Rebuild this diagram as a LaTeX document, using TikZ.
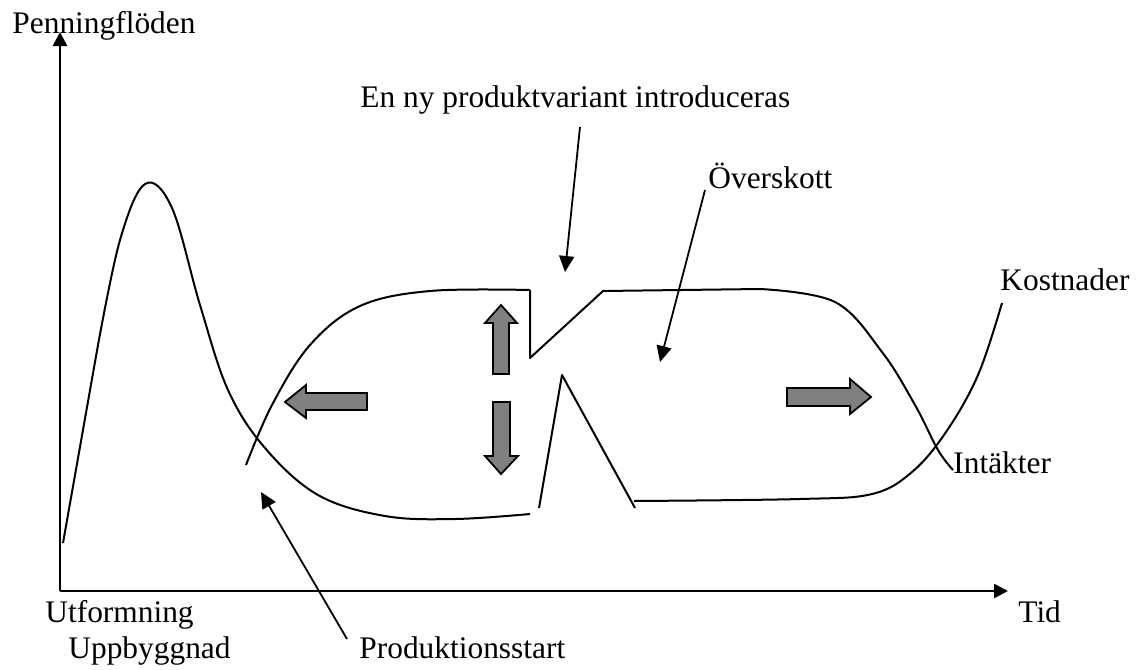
\documentclass[tikz,border=0pt]{standalone}
\usepackage{fontspec}
\setmainfont{Liberation Serif}
\usetikzlibrary{arrows.meta}

\begin{document}
\begin{tikzpicture}[x=0.5pt,y=-0.5pt]

\tikzset{curve/.style={draw,line width=1pt,line join=round}}
\tikzset{axis/.style={draw,line width=1.3pt,-{Triangle[length=7pt,width=7pt]}}}
\tikzset{pointer/.style={draw,line width=0.9pt,-{Triangle[length=8pt,width=7.5pt]}}}
\tikzset{blockarrow/.style={draw,fill=gray,line width=0.9pt,line join=miter}}
\tikzset{txt/.style={font=\fontsize{15.7}{18}\selectfont,inner sep=0pt,anchor=base west}}

\useasboundingbox (0,0) rectangle (1138,669);

\coordinate (origin) at (60,591);
\coordinate (ytip) at (60,32);
\coordinate (xtip) at (1008,591);
\path[axis] (origin) to (ytip);
\path[axis] (origin) to (xtip);

\node[txt] (yname) at (12,33) {Penningflöden};
\node[txt] (xname) at (1018,622) {Tid};
\node[txt] (design) at (45,622) {Utformning};
\node[txt] (buildup) at (68,658) {Uppbyggnad};
\node[txt] (start) at (359,658) {Produktionsstart};
\node[txt] (variant) at (360,107) {En ny produktvariant introduceras};
\node[txt] (surplus) at (708,188) {Överskott};
\node[txt] (costs) at (1000,290) {Kostnader};
\node[txt] (revenue) at (953,473) {Intäkter};

\path[curve] (63,543) -- (98,345);
\path[curve] plot[smooth,tension=0.6] coordinates {(98,345) (120,240) (145,184) (172,208) (200,305) (228,390) (265,448) (318,495) (385,516) (455,519) (530,514)};
\path[curve] (539,508) -- (562,375) -- (635,508);
\path[curve] plot[smooth,tension=0.6] coordinates {(634,501) (800,499) (872,494) (912,472) (946,432) (978,375) (1002,303)};

\path[curve] plot[smooth,tension=0.6] coordinates {(246,465) (272,405) (310,345) (360,306) (430,291) (530,290)};
\path[curve] (530,290) -- (530,358) -- (603,291) -- (760,289);
\path[curve] plot[smooth,tension=0.6] coordinates {(760,289) (835,302) (882,352) (915,405) (938,450) (953,470)};

\coordinate (variant-from) at (580,127);
\coordinate (variant-to) at (565,272);
\coordinate (surplus-from) at (705,190);
\coordinate (surplus-to) at (660,362);
\coordinate (start-from) at (347,639);
\coordinate (start-to) at (261,492);
\path[pointer] (variant-from) to (variant-to);
\path[pointer] (surplus-from) to (surplus-to);
\path[pointer] (start-from) to (start-to);

\path[blockarrow] (285,402) -- (306,385) -- (306,393) -- (367,393) -- (367,410) -- (306,410) -- (306,418) -- cycle;
\path[blockarrow] (501,305) -- (517,323) -- (509,323) -- (509,374) -- (493,374) -- (493,323) -- (485,323) -- cycle;
\path[blockarrow] (501,474) -- (518,456) -- (510,456) -- (510,402) -- (493,402) -- (493,456) -- (485,456) -- cycle;
\path[blockarrow] (871,397) -- (850,379) -- (850,388) -- (787,388) -- (787,406) -- (850,406) -- (850,414) -- cycle;

\end{tikzpicture}
\end{document}
